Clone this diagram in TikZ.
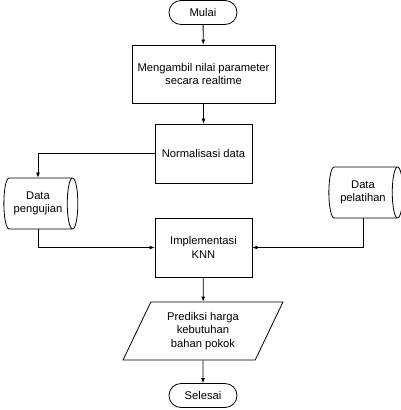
\documentclass[tikz,border=0pt]{standalone}
\usepackage{fontspec}
\setmainfont{Liberation Sans}
\usetikzlibrary{shapes.geometric,shapes.misc,arrows.meta}
\begin{document}
\begin{tikzpicture}[x=1pt,y=-1pt,
font=\fontsize{11.2}{13.5}\selectfont,
process/.style={
% The shape:
rectangle,
draw=black,
line width=0.8pt,
minimum height=59pt,
minimum width=97pt,
inner sep=0pt,
align=center
},
terminal/.style={
rounded rectangle,minimum width=68pt,minimum height=24pt,inner sep=0pt,
draw=black,line width=0.8pt
},
storage/.style={
cylinder,shape border rotate=0,aspect=0.45,
minimum width=51pt,minimum height=74pt,inner sep=0pt,
draw=black,line width=0.8pt,align=center
},
inout/.style={
trapezium,trapezium left angle=63,trapezium right angle=117,
trapezium stretches=true,minimum width=160pt,minimum height=58pt,
inner sep=0pt,draw=black,line width=0.8pt,align=center
},
flow/.style={line width=0.8pt,-{Latex[length=5pt,width=4pt]}}
]
\useasboundingbox (0,0) rectangle (400,410);
% Main column:
\node (mulai) [terminal] at (203,12.5) {Mulai};
\node (ambil) [process,minimum width=143pt,minimum height=58pt] at (203.5,74) {Mengambil nilai parameter\\secara realtime};
\node (normal) [process] at (203.5,153.5) {Normalisasi data};
\node (knn) [process] at (203.5,247.5) {Implementasi\\KNN};
\node (prediksi) [inout] at (203,331) {Prediksi harga\\kebutuhan\\bahan pokok};
\node (selesai) [terminal] at (203,395.5) {Selesai};
% Data stores:
\node (uji) [storage] at (38,203.5) {Data\\pengujian};
\node (latih) [storage] at (363,192.5) {Data\\pelatihan};
\draw[flow] (mulai) -- (ambil);
\draw[flow] (ambil) -- (normal);
\draw[flow] (normal.west) -| (uji.north);
\draw[flow] (uji.south) |- (knn.west);
\draw[flow] (latih.south) |- (knn.east);
\draw[flow] (knn) -- (prediksi);
\draw[flow] (prediksi) -- (selesai);
\end{tikzpicture}
\end{document}
